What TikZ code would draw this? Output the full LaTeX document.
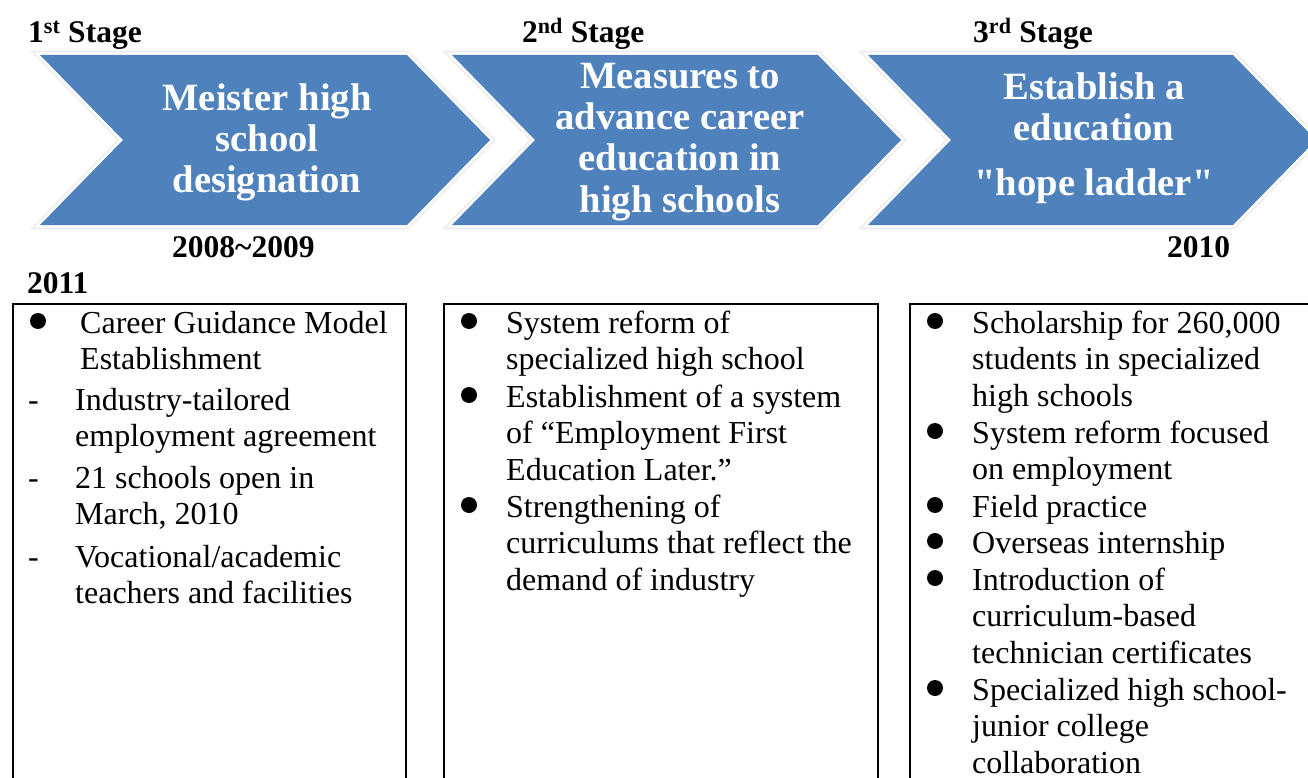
\documentclass[tikz,border=0pt]{standalone}
\usepackage{fontspec}
\setmainfont{Liberation Serif}
\usetikzlibrary{positioning}
\definecolor{stageblue}{HTML}{4F81BD}
\definecolor{rimgray}{HTML}{EBEBEB}

\begin{document}
\begin{tikzpicture}[
    x=1pt, y=-1pt,
    chevron/.style={preaction={draw=rimgray, line width=8pt}, preaction={draw=white, line width=5pt}, fill=stageblue},
    stagetext/.style={text=white, align=center, anchor=base, inner sep=0pt, font=\fontsize{38.6}{41.3}\selectfont\bfseries},
    heading/.style={anchor=base west, inner sep=0pt, font=\fontsize{31.5}{36}\selectfont\bfseries},
    listbox/.style={draw, line width=2pt, anchor=north west, minimum height=600pt, inner sep=0pt},
    entry/.style={anchor=base west, align=left, inner sep=0pt, font=\fontsize{32}{36.8}\selectfont},
    dashmark/.style={anchor=base west, inner sep=0pt, font=\fontsize{32}{36.8}\selectfont},
    bulletdot/.style={circle, fill=black, minimum size=16pt, inner sep=0pt}
  ]
    \clip (0,0) rectangle (1308,778);

    % Stage headings
    \node[heading] (head1) at (28,43) {1\textsuperscript{st} Stage};
    \node[heading] (head2) at (522,43) {2\textsuperscript{nd} Stage};
    \node[heading] (head3) at (973,43) {3\textsuperscript{rd} Stage};

    % Chevrons
    \path[chevron] (40,55) -- (407,55) -- (490,140) -- (407,225) -- (40,225) -- (123,140) -- cycle;
    \path[chevron] (452,55) -- (818,55) -- (901,140) -- (818,225) -- (452,225) -- (535,140) -- cycle;
    \path[chevron] (868,55) -- (1233,55) -- (1316,140) -- (1233,225) -- (868,225) -- (951,140) -- cycle;

    % (anchor base = last line)
    \node[stagetext] (stage1) at (267,192.6) {Meister high\\school\\designation};
    \node[stagetext] (stage2) at (680,212) {Measures to\\advance career\\education in\\high schools};
    \node[stagetext] (stage3) at (1094,195) {Establish a\\education\\[13pt]\textquotedbl hope ladder\textquotedbl};

    % Years
    \node[heading] (year1) at (172,257) {2008\textasciitilde 2009};
    \node[heading] (year2) at (1167,257) {2010};
    \node[heading] (year3) at (27,293) {2011};

    % Boxes
    \node[listbox, minimum width=393pt] (box1) at (12,303) {};
    \node[listbox, minimum width=434pt] (box2) at (443,303) {};
    \node[listbox, minimum width=420pt] (box3) at (909,303) {};

    % First box
    \node[bulletdot] (dot11) at (38,321) {};
    \node[entry] (item11) at (80,369.8) {Career Guidance Model\\Establishment};
    \node[dashmark] (dash12) at (28,410) {-};
    \node[entry] (item12) at (75,446.8) {Industry-tailored\\employment agreement};
    \node[dashmark] (dash13) at (28,488) {-};
    \node[entry] (item13) at (75,524.8) {21 schools open in\\March, 2010};
    \node[dashmark] (dash14) at (28,567) {-};
    \node[entry] (item14) at (75,603.8) {Vocational/academic\\teachers and facilities};

    % Second box
    \node[bulletdot] (dot21) at (469,321) {};
    \node[entry] (item21) at (506,369.8) {System reform of\\specialized high school};
    \node[bulletdot] (dot22) at (469,395) {};
    \node[entry] (item22) at (506,480.6) {Establishment of a system\\of ``Employment First\\Education Later.''};
    \node[bulletdot] (dot23) at (469,505) {};
    \node[entry] (item23) at (506,590.6) {Strengthening of\\curriculums that reflect the\\demand of industry};

    % Third box
    \node[bulletdot] (dot31) at (935,321) {};
    \node[entry] (item31) at (972,406.6) {Scholarship for 260,000\\students in specialized\\high schools};
    \node[bulletdot] (dot32) at (935,431) {};
    \node[entry] (item32) at (972,479.8) {System reform focused\\on employment};
    \node[bulletdot] (dot33) at (935,505) {};
    \node[entry] (item33) at (972,517) {Field practice};
    \node[bulletdot] (dot34) at (935,541) {};
    \node[entry] (item34) at (972,553) {Overseas internship};
    \node[bulletdot] (dot35) at (935,578) {};
    \node[entry] (item35) at (972,663.6) {Introduction of\\curriculum-based\\technician certificates};
    \node[bulletdot] (dot36) at (935,688) {};
    \node[entry] (item36) at (972,773.6) {Specialized high school-\\junior college\\collaboration};
\end{tikzpicture}
\end{document}
